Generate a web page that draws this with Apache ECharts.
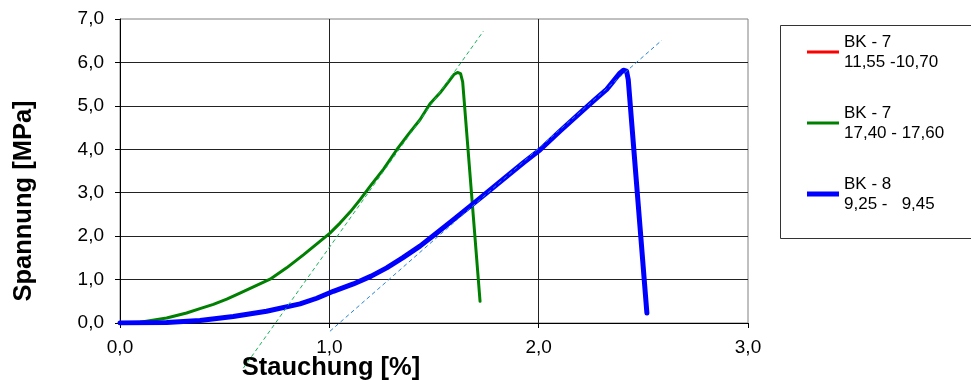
<!DOCTYPE html>
<html>
<head>
<meta charset="utf-8">
<script src="https://cdn.jsdelivr.net/npm/echarts@6/dist/echarts.min.js"></script>
<style>
html, body { margin: 0; padding: 0; background: #fff; }
#main { width: 971px; height: 380px; }
</style>
</head>
<body>
<div id="main"></div>
<script>
// Stauchung [%] / Spannung [MPa]
var seriesNames = ['BK - 7\n11,55 -10,70', 'BK - 7\n17,40 - 17,60', 'BK - 8\n9,25 -   9,45'];
var bk7a = []; // keine Messwerte sichtbar
var bk7b = [
    [0, 0], [0.096, 0.02], [0.223, 0.115], [0.318, 0.23], [0.382, 0.33], [0.446, 0.43],
    [0.51, 0.55], [0.573, 0.69], [0.645, 0.85], [0.717, 1.01], [0.796, 1.27], [0.876, 1.57],
    [0.955, 1.88], [1.003, 2.07], [1.051, 2.3], [1.1, 2.56], [1.147, 2.84], [1.2, 3.18],
    [1.26, 3.55], [1.322, 3.99], [1.38, 4.36], [1.433, 4.68], [1.481, 5.05], [1.529, 5.3],
    [1.57, 5.56], [1.595, 5.72], [1.612, 5.77], [1.627, 5.74], [1.637, 5.55], [1.72, 0.5]
];
var bk8 = [
    [0, 0], [0.223, 0.01], [0.382, 0.06], [0.541, 0.15], [0.7, 0.27], [0.86, 0.44],
    [0.94, 0.57], [1.019, 0.73], [1.115, 0.9], [1.2, 1.08], [1.274, 1.27], [1.35, 1.5],
    [1.433, 1.77], [1.51, 2.06], [1.593, 2.38], [1.67, 2.68], [1.752, 3.0], [1.848, 3.38],
    [1.93, 3.7], [2.007, 3.99], [2.1, 4.41], [2.198, 4.84], [2.27, 5.15], [2.325, 5.38],
    [2.357, 5.57], [2.385, 5.74], [2.405, 5.82], [2.42, 5.8], [2.428, 5.6], [2.517, 0.23]
];
// Tangenten (gestrichelt)
var tangentGreen = [[0.589, -1.04], [1.736, 6.72]];
var tangentBlue = [[1.003, -0.19], [2.588, 6.51]];

var xTicks = [0, 1, 2, 3];
var yTicks = [0, 1, 2, 3, 4, 5, 6, 7];

function comma(v) {
    return v.toFixed(1).replace('.', ',');
}

var dom = document.getElementById('main');
var myChart = echarts.init(dom);
var font = 'Liberation Sans, Arial, sans-serif';
// Legendensymbol: nur Linie, kleiner Hilfsstrich spannt die Hoehe auf
var iconThin = 'path://M0,0h0.01v14h-0.01z M0,5.5h32v3h-32z';
var iconThick = 'path://M0,0h0.01v14h-0.01z M0,4.5h32v5h-32z';
var option = {
    backgroundColor: '#fff',
    animation: false,
    grid: {
        left: 120, top: 19, width: 628, height: 304,
        outerBoundsMode: 'none',
        containLabel: false,
        show: true, borderColor: '#808080', borderWidth: 1
    },
    legend: {
        orient: 'vertical',
        left: 807, top: 22,
        padding: 0,
        itemWidth: 32, itemHeight: 14,
        itemGap: 11,
        data: [
            { name: seriesNames[0], icon: iconThin },
            { name: seriesNames[1], icon: iconThin },
            { name: seriesNames[2], icon: iconThick }
        ],
        textStyle: {
            fontFamily: font, fontSize: 17, color: '#000',
            lineHeight: 20, padding: [20, 0, 0, 0]
        }
    },
    graphic: [{
        type: 'rect',
        shape: { x: 780.5, y: 25.5, width: 200, height: 213 },
        style: { fill: 'none', stroke: '#333', lineWidth: 1 },
        z: -1
    }],
    xAxis: {
        type: 'value',
        min: xTicks[0], max: xTicks[xTicks.length - 1], interval: 1,
        name: 'Stauchung [%]',
        nameLocation: 'middle',
        nameGap: 32,
        nameMoveOverlap: false,
        nameTextStyle: { fontFamily: font, fontSize: 25.5, fontWeight: 'bold', color: '#000', padding: [0, 206, 0, 0] },
        axisLine: { onZero: false, lineStyle: { color: '#000', width: 1 } },
        axisTick: { show: true, length: 5, lineStyle: { color: '#000' } },
        axisLabel: { fontFamily: font, fontSize: 19, color: '#000', margin: 15, formatter: comma },
        splitLine: { show: true, showMinLine: false, showMaxLine: false, lineStyle: { color: '#222', width: 1 } }
    },
    yAxis: {
        type: 'value',
        min: yTicks[0], max: yTicks[yTicks.length - 1], interval: 1,
        name: 'Spannung [MPa]',
        nameLocation: 'middle',
        nameGap: 83,
        nameMoveOverlap: false,
        nameTextStyle: { fontFamily: font, fontSize: 25.5, fontWeight: 'bold', color: '#000', padding: [0, 60, 0, 0] },
        axisLine: { lineStyle: { color: '#000', width: 1 } },
        axisTick: { show: true, length: 5, lineStyle: { color: '#000' } },
        axisLabel: { fontFamily: font, fontSize: 19, color: '#000', margin: 16, formatter: comma },
        splitLine: { show: true, showMinLine: false, showMaxLine: false, lineStyle: { color: '#222', width: 1 } }
    },
    series: [
        {
            name: seriesNames[0], type: 'line', data: bk7a, symbol: 'none',
            lineStyle: { color: '#ff0000', width: 3 }, itemStyle: { color: '#ff0000' }
        },
        {
            name: seriesNames[1], type: 'line', data: bk7b, symbol: 'none',
            lineStyle: { color: '#008000', width: 3, cap: 'round', join: 'round' }, itemStyle: { color: '#008000' }
        },
        {
            name: seriesNames[2], type: 'line', data: bk8, symbol: 'none',
            lineStyle: { color: '#0000ff', width: 5, cap: 'round', join: 'round' }, itemStyle: { color: '#0000ff' }
        },
        {
            name: 'tangente1', type: 'line', data: tangentGreen, symbol: 'none', clip: false, silent: true,
            lineStyle: { color: '#18b45a', width: 1, type: [4, 3] }
        },
        {
            name: 'tangente2', type: 'line', data: tangentBlue, symbol: 'none', clip: false, silent: true,
            lineStyle: { color: '#2a82d6', width: 1, type: [4, 3] }
        }
    ]
};
myChart.setOption(option);
window.onresize = function () {
    myChart.resize();
};
</script>
</body>
</html>
